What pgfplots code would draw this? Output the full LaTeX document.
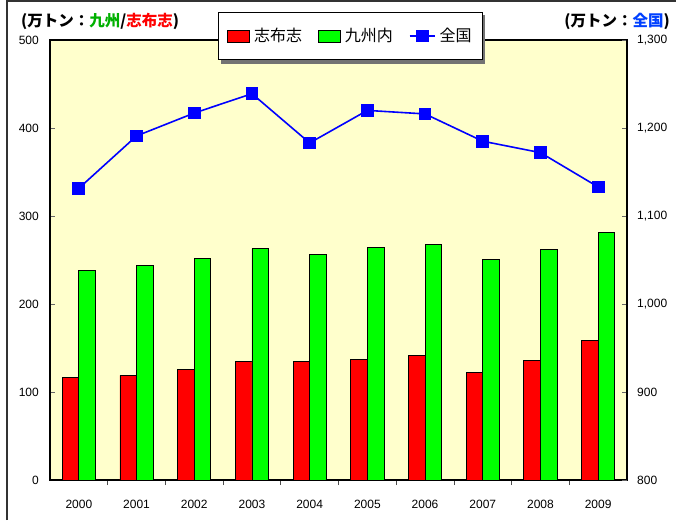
\documentclass[border=0pt]{standalone}
\usepackage{fontspec}
\setmainfont{Liberation Sans}
\newfontfamily\cjk{Noto Sans CJK JP}
\usepackage{pgfplots}
\pgfplotsset{compat=1.18}
\definecolor{bgy}{RGB}{255,255,204}
\definecolor{kgreen}{RGB}{0,176,0}
\definecolor{kblue}{RGB}{0,64,255}
\definecolor{bred}{RGB}{255,0,0}
\definecolor{bgreen}{RGB}{0,255,0}
\definecolor{lblue}{RGB}{0,0,255}
\begin{document}
\begin{tikzpicture}[x=1pt,y=1pt]
\useasboundingbox (0,0) rectangle (676,520);
\draw[line width=1.6pt, black!80] (7,0) -- (7,518.7) -- (676,518.7);
\node[anchor=west, inner sep=0pt, font=\cjk\bfseries\fontsize{15.5}{17}\selectfont] at (21,499) {(万トン：{\color{kgreen}九州}/{\color{bred}志布志})};
\node[anchor=east, inner sep=0pt, font=\cjk\bfseries\fontsize{15.5}{17}\selectfont] at (670,499) {(万トン：{\color{kblue}全国})};
\begin{axis}[
  at={(50pt,40pt)}, anchor=south west, scale only axis,
  width=577pt, height=440pt,
  xmin=-0.5, xmax=9.5, ymin=0, ymax=500,
  axis background/.style={fill=bgy},
  axis line style={black, line width=1.1pt},
  tick align=inside,
  xtick={0,...,9},
  xticklabels={2000,2001,2002,2003,2004,2005,2006,2007,2008,2009},
  major x tick style={draw=none},
  minor xtick={0.5,1.5,...,8.5},
  minor x tick style={black!70, line width=0.8pt},
  minor tick length=5pt,
  xtick pos=bottom,
  ytick={0,100,...,500},
  ytick pos=left,
  major tick length=5pt,
  y tick style={black!60, line width=0.8pt},
  tick label style={font=\fontsize{12}{14}\selectfont, /pgf/number format/assume math mode=true},
  xticklabel style={inner sep=0pt, yshift=-15pt},
  yticklabel style={inner sep=0pt, xshift=-11pt},
  ybar, bar width=0.288,
]
\addplot[fill=bred, draw=black, line width=0.8pt, bar shift=-0.144] coordinates {
 (0,117) (1,119) (2,126) (3,135) (4,134.5) (5,137) (6,141.7) (7,122.3) (8,136) (9,158.7)};
\addplot[fill=bgreen, draw=black, line width=0.8pt, bar shift=0.144] coordinates {
 (0,238) (1,244) (2,252) (3,263) (4,256) (5,264.4) (6,267.8) (7,250.8) (8,262) (9,281.5)};
\end{axis}
\fill[black!55] (221,456) rectangle (485,505);
\begin{axis}[
  at={(50pt,40pt)}, anchor=south west, scale only axis,
  width=577pt, height=440pt,
  xmin=-0.5, xmax=9.5, ymin=800, ymax=1300,
  axis x line=none, axis y line*=right,
  axis line style={black, line width=1.1pt},
  tick align=inside,
  ytick={800,900,...,1300},
  major tick length=5pt,
  y tick style={black!60, line width=0.8pt},
  tick label style={font=\fontsize{12}{14}\selectfont, /pgf/number format/assume math mode=true},
  yticklabel style={inner sep=0pt, xshift=10pt, anchor=west, /pgf/number format/1000 sep={,}},
  legend columns=3,
  legend style={at={(0.291,1.0636)}, anchor=north west, draw=black, fill=white, line width=0.8pt,
    font=\cjk\fontsize{16}{18}\selectfont, inner xsep=9pt, inner ysep=14pt,
    /tikz/every odd column/.append style={column sep=2pt},
    /tikz/every even column/.append style={column sep=14pt}},
]
\addlegendimage{legend image code/.code={\draw[fill=bred, draw=black, line width=0.8pt] (0pt,-6pt) rectangle (22pt,6pt);}}
\addlegendentry{志布志}
\addlegendimage{legend image code/.code={\draw[fill=bgreen, draw=black, line width=0.8pt] (0pt,-6pt) rectangle (22pt,6pt);}}
\addlegendentry{九州内}
\addplot[lblue, line width=1.6pt, mark=square*, mark size=5.6pt, mark options={solid},
  legend image code/.code={\draw[lblue, line width=1.6pt] (0pt,0pt) -- (25pt,0pt); \fill[lblue] (7pt,-5.6pt) rectangle (18.2pt,5.6pt);}] coordinates {
 (0,1131.5) (1,1191) (2,1217) (3,1239) (4,1183) (5,1220) (6,1216) (7,1185) (8,1172) (9,1133)};
\addlegendentry{全国}
\end{axis}
\end{tikzpicture}
\end{document}
